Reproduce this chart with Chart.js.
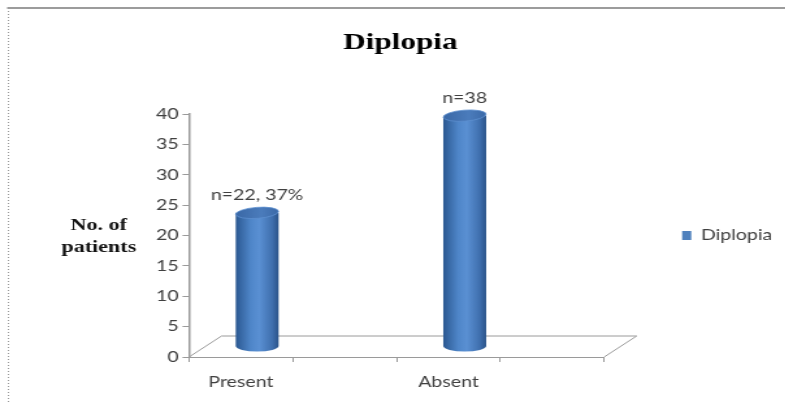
<!DOCTYPE html>
<html>
<head>
<meta charset="utf-8">
<title>Diplopia</title>
<script src="https://cdn.jsdelivr.net/npm/chart.js@4.4.0/dist/chart.umd.min.js"></script>
<style>
  html, body { margin: 0; padding: 0; background: #fff; overflow: hidden; }
  /* the chart is laid out narrow and stretched sideways, like the old exported figure */
  #wrap { width: 604px; height: 402px; transform: scaleX(1.3); transform-origin: 0 0; }
</style>
</head>
<body>
<div id="wrap"><canvas id="diplopiaChart"></canvas></div>
<script>
// blank slots keep the wide spacing between the two groups
const categories = ["Present", "", "Absent", ""];
const patients = [22, null, 38, null];
const barLabels = ["n=22, 37%", "", "n=38", ""];
const yTicks = [0, 5, 10, 15, 20, 25, 30, 35, 40];
const seriesName = "Diplopia";
const yTitleLines = ["No. of", "patients"];

const DEPTH_X = 25;
const DEPTH_Y = 21;
const AXIS_GREY = "#9a9a9a";
const LABEL_FONT = { family: "Lato", size: 15 };

// page frame: solid top edge, dotted left edge
const framePlugin = {
  id: "frame",
  beforeDraw(chart) {
    const ctx = chart.ctx;
    ctx.save();
    ctx.strokeStyle = "#9c9c9c";
    ctx.lineWidth = 2;
    ctx.beginPath();
    ctx.moveTo(5.5, 8);
    ctx.lineTo(chart.width, 8);
    ctx.stroke();
    ctx.lineWidth = 1;
    ctx.setLineDash([1, 2]);
    ctx.beginPath();
    ctx.moveTo(6.5, 8);
    ctx.lineTo(6.5, chart.height);
    ctx.stroke();
    ctx.restore();
  },
  afterDraw(chart) {
    // horizontal y-axis caption
    const ctx = chart.ctx;
    ctx.save();
    ctx.font = "bold 17px 'Liberation Serif'";
    ctx.fillStyle = "#111";
    ctx.textAlign = "center";
    ctx.textBaseline = "middle";
    ctx.fillText(yTitleLines[0], 76, 226);
    ctx.fillText(yTitleLines[1], 76, 248);
    ctx.restore();
  }
};

// 3D floor behind the bars
const floorPlugin = {
  id: "floor3d",
  beforeDatasetsDraw(chart) {
    const { ctx, chartArea: a } = chart;
    ctx.save();
    ctx.strokeStyle = AXIS_GREY;
    ctx.lineWidth = 1;
    ctx.beginPath();
    ctx.moveTo(a.left, a.bottom);
    ctx.lineTo(a.left + DEPTH_X, a.bottom - DEPTH_Y);
    ctx.lineTo(a.right + DEPTH_X, a.bottom - DEPTH_Y);
    ctx.lineTo(a.right, a.bottom);
    ctx.stroke();
    ctx.restore();
  }
};

// bars are drawn as shaded cylinders standing in the middle of the floor
const cylinderPlugin = {
  id: "cylinders",
  beforeDatasetDraw(chart, args) {
    const ctx = chart.ctx;
    args.meta.data.forEach((bar, i) => {
      if (patients[i] == null) return;
      const p = bar.getProps(["x", "y", "base", "width"], true);
      const cx = p.x + DEPTH_X / 2;
      const r = p.width / 2;
      const ry = 5.5;
      const top = p.y - DEPTH_Y / 2;
      const bottom = p.base - DEPTH_Y / 2;

      ctx.save();
      const g = ctx.createLinearGradient(cx - r, 0, cx + r, 0);
      g.addColorStop(0, "#2b5891");
      g.addColorStop(0.35, "#4f86c9");
      g.addColorStop(0.55, "#5a90d3");
      g.addColorStop(0.85, "#3f6fae");
      g.addColorStop(1, "#2a5389");
      ctx.fillStyle = g;
      ctx.beginPath();
      ctx.moveTo(cx - r, top);
      ctx.lineTo(cx - r, bottom);
      ctx.ellipse(cx, bottom, r, ry, 0, Math.PI, 0, true);
      ctx.lineTo(cx + r, top);
      ctx.closePath();
      ctx.fill();

      const tg = ctx.createLinearGradient(cx - r, 0, cx + r, 0);
      tg.addColorStop(0, "#3a68a6");
      tg.addColorStop(0.6, "#4b7cbc");
      tg.addColorStop(1, "#3b69a7");
      ctx.fillStyle = tg;
      ctx.beginPath();
      ctx.ellipse(cx, top, r, ry, -0.1, 0, Math.PI * 2);
      ctx.fill();
      ctx.strokeStyle = "#5d8fcf";
      ctx.lineWidth = 0.8;
      ctx.stroke();

      ctx.font = "15px Lato";
      ctx.fillStyle = "#404040";
      ctx.textAlign = "center";
      ctx.textBaseline = "middle";
      ctx.fillText(barLabels[i], cx, top - ry - 12);
      ctx.restore();
    });
    return false;
  }
};

new Chart(document.getElementById("diplopiaChart"), {
  type: "bar",
  data: {
    labels: categories,
    datasets: [
      {
        label: seriesName,
        data: patients,
        backgroundColor: "#4f81bd",
        borderWidth: 0,
        barThickness: 33,
        skipNull: true,
      },
    ],
  },
  options: {
    responsive: true,
    maintainAspectRatio: false,
    animation: false,
    layout: { padding: { left: 12, right: 0, top: 0, bottom: 0 } },
    plugins: {
      title: {
        display: true,
        text: seriesName,
        color: "#000",
        font: { family: "Liberation Serif", size: 24, weight: "bold" },
        padding: { top: 28, bottom: 57.2 },
      },
      legend: {
        position: "right",
        fullSize: false,
        labels: {
          boxWidth: 7,
          boxHeight: 9,
          padding: 60,
          color: "#404040",
          font: LABEL_FONT,
        },
      },
      tooltip: { enabled: false },
    },
    scales: {
      x: {
        afterFit(scale) { scale.height = 45; },
        border: { color: AXIS_GREY, width: 1 },
        grid: { drawOnChartArea: false, offset: true, tickLength: 5, color: AXIS_GREY },
        ticks: { color: "#404040", font: LABEL_FONT, padding: 11, maxRotation: 0, autoSkip: false },
      },
      y: {
        min: 0,
        max: 40,
        afterBuildTicks(scale) { scale.ticks = yTicks.map((v) => ({ value: v })); },
        afterFit(scale) { scale.width = 133.4; },
        border: { color: AXIS_GREY, width: 1.5 },
        grid: { drawOnChartArea: false, tickLength: 5, color: AXIS_GREY },
        ticks: { color: "#404040", font: LABEL_FONT, padding: 3 },
      },
    },
  },
  plugins: [framePlugin, floorPlugin, cylinderPlugin],
});
</script>
</body>
</html>
